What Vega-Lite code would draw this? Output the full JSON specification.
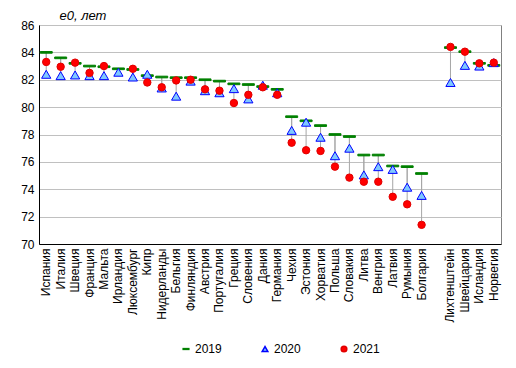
{
  "$schema": "https://vega.github.io/schema/vega-lite/v6.json",
  "width": 462,
  "height": 219,
  "autosize": "none",
  "padding": {"left": 39, "top": 25, "right": 15, "bottom": 124},
  "background": "white",
  "config": {
    "font": "Liberation Sans",
    "view": {"stroke": "#808080", "strokeWidth": 1},
    "axis": {"labelFont": "Liberation Sans", "labelFontSize": 12, "labelColor": "black", "ticks": false, "domainColor": "black", "gridColor": "#C0C0C0", "labelOverlap": false, "labelFlush": false, "labelBound": false},
    "legend": {"labelFont": "Liberation Sans", "labelFontSize": 12, "labelColor": "black"}
  },
  "data": {"values": [
    {"c": "Испания", "y": "2019", "v": 84.0},
    {"c": "Италия", "y": "2019", "v": 83.6},
    {"c": "Швеция", "y": "2019", "v": 83.2},
    {"c": "Франция", "y": "2019", "v": 83.0},
    {"c": "Мальта", "y": "2019", "v": 82.95},
    {"c": "Ирландия", "y": "2019", "v": 82.8},
    {"c": "Люксембург", "y": "2019", "v": 82.75},
    {"c": "Кипр", "y": "2019", "v": 82.3},
    {"c": "Нидерланды", "y": "2019", "v": 82.2},
    {"c": "Бельгия", "y": "2019", "v": 82.15},
    {"c": "Финляндия", "y": "2019", "v": 82.15},
    {"c": "Австрия", "y": "2019", "v": 82.0},
    {"c": "Португалия", "y": "2019", "v": 81.9},
    {"c": "Греция", "y": "2019", "v": 81.7},
    {"c": "Словения", "y": "2019", "v": 81.65},
    {"c": "Дания", "y": "2019", "v": 81.5},
    {"c": "Германия", "y": "2019", "v": 81.3},
    {"c": "Чехия", "y": "2019", "v": 79.3},
    {"c": "Эстония", "y": "2019", "v": 79.0},
    {"c": "Хорватия", "y": "2019", "v": 78.65},
    {"c": "Польша", "y": "2019", "v": 78.0},
    {"c": "Словакия", "y": "2019", "v": 77.85},
    {"c": "Литва", "y": "2019", "v": 76.5},
    {"c": "Венгрия", "y": "2019", "v": 76.5},
    {"c": "Латвия", "y": "2019", "v": 75.7},
    {"c": "Румыния", "y": "2019", "v": 75.65},
    {"c": "Болгария", "y": "2019", "v": 75.15},
    {"c": "Лихтенштейн", "y": "2019", "v": 84.35},
    {"c": "Швейцария", "y": "2019", "v": 84.05},
    {"c": "Исландия", "y": "2019", "v": 83.2},
    {"c": "Норвегия", "y": "2019", "v": 83.05},
    {"c": "Испания", "y": "2020", "v": 82.4},
    {"c": "Италия", "y": "2020", "v": 82.3},
    {"c": "Швеция", "y": "2020", "v": 82.35},
    {"c": "Франция", "y": "2020", "v": 82.3},
    {"c": "Мальта", "y": "2020", "v": 82.3},
    {"c": "Ирландия", "y": "2020", "v": 82.55},
    {"c": "Люксембург", "y": "2020", "v": 82.2},
    {"c": "Кипр", "y": "2020", "v": 82.4},
    {"c": "Нидерланды", "y": "2020", "v": 81.4},
    {"c": "Бельгия", "y": "2020", "v": 80.8},
    {"c": "Финляндия", "y": "2020", "v": 81.9},
    {"c": "Австрия", "y": "2020", "v": 81.2},
    {"c": "Португалия", "y": "2020", "v": 81.05},
    {"c": "Греция", "y": "2020", "v": 81.35},
    {"c": "Словения", "y": "2020", "v": 80.6},
    {"c": "Дания", "y": "2020", "v": 81.6},
    {"c": "Германия", "y": "2020", "v": 81.05},
    {"c": "Чехия", "y": "2020", "v": 78.3},
    {"c": "Эстония", "y": "2020", "v": 78.9},
    {"c": "Хорватия", "y": "2020", "v": 77.8},
    {"c": "Польша", "y": "2020", "v": 76.45},
    {"c": "Словакия", "y": "2020", "v": 77.0},
    {"c": "Литва", "y": "2020", "v": 75.05},
    {"c": "Венгрия", "y": "2020", "v": 75.65},
    {"c": "Латвия", "y": "2020", "v": 75.45},
    {"c": "Румыния", "y": "2020", "v": 74.15},
    {"c": "Болгария", "y": "2020", "v": 73.55},
    {"c": "Лихтенштейн", "y": "2020", "v": 81.8},
    {"c": "Швейцария", "y": "2020", "v": 83.05},
    {"c": "Исландия", "y": "2020", "v": 83.0},
    {"c": "Норвегия", "y": "2020", "v": 83.25},
    {"c": "Испания", "y": "2021", "v": 83.3},
    {"c": "Италия", "y": "2021", "v": 82.95},
    {"c": "Швеция", "y": "2021", "v": 83.25},
    {"c": "Франция", "y": "2021", "v": 82.5},
    {"c": "Мальта", "y": "2021", "v": 83.0},
    {"c": "Люксембург", "y": "2021", "v": 82.8},
    {"c": "Кипр", "y": "2021", "v": 81.8},
    {"c": "Нидерланды", "y": "2021", "v": 81.45},
    {"c": "Бельгия", "y": "2021", "v": 81.95},
    {"c": "Финляндия", "y": "2021", "v": 82.0},
    {"c": "Австрия", "y": "2021", "v": 81.3},
    {"c": "Португалия", "y": "2021", "v": 81.2},
    {"c": "Греция", "y": "2021", "v": 80.3},
    {"c": "Словения", "y": "2021", "v": 80.9},
    {"c": "Дания", "y": "2021", "v": 81.45},
    {"c": "Германия", "y": "2021", "v": 80.9},
    {"c": "Чехия", "y": "2021", "v": 77.4},
    {"c": "Эстония", "y": "2021", "v": 76.85},
    {"c": "Хорватия", "y": "2021", "v": 76.8},
    {"c": "Польша", "y": "2021", "v": 75.65},
    {"c": "Словакия", "y": "2021", "v": 74.85},
    {"c": "Литва", "y": "2021", "v": 74.55},
    {"c": "Венгрия", "y": "2021", "v": 74.55},
    {"c": "Латвия", "y": "2021", "v": 73.45},
    {"c": "Румыния", "y": "2021", "v": 72.9},
    {"c": "Болгария", "y": "2021", "v": 71.4},
    {"c": "Лихтенштейн", "y": "2021", "v": 84.4},
    {"c": "Швейцария", "y": "2021", "v": 84.05},
    {"c": "Исландия", "y": "2021", "v": 83.2},
    {"c": "Норвегия", "y": "2021", "v": 83.25}
  ]},
  "encoding": {
    "x": {
      "field": "c", "type": "nominal",
      "scale": {"domain": ["Испания","Италия","Швеция","Франция","Мальта","Ирландия","Люксембург","Кипр","Нидерланды","Бельгия","Финляндия","Австрия","Португалия","Греция","Словения","Дания","Германия","Чехия","Эстония","Хорватия","Польша","Словакия","Литва","Венгрия","Латвия","Румыния","Болгария"," ","Лихтенштейн","Швейцария","Исландия","Норвегия"], "paddingInner": 0, "paddingOuter": 0},
      "axis": {"title": null, "labelAngle": -90, "labelPadding": 4, "grid": false, "domainColor": "black"}
    },
    "y": {"field": "v", "type": "quantitative", "scale": {"domain": [70, 86], "nice": false, "zero": false},
      "axis": {"values": [70,72,74,76,78,80,82,84,86], "title": "e0, лет", "titleAngle": 0, "titleAlign": "left", "titleBaseline": "alphabetic", "titleX": 20, "titleY": -6, "titleFont": "Liberation Sans", "titleFontSize": 13, "titleFontWeight": "normal", "titleFontStyle": "italic", "titleColor": "black", "labelPadding": 5, "grid": true, "gridColor": "#C0C0C0"}}
  },
  "layer": [
    {
      "transform": [{"joinaggregate": [{"op": "max", "field": "v", "as": "hi"}], "groupby": ["c"]}],
      "mark": {"type": "rule", "color": "#A6A6A6", "strokeWidth": 1},
      "encoding": {
        "y2": {"field": "hi"}
      }
    },
    {
      "transform": [{"filter": "datum.y == '2019'"}],
      "mark": {"type": "point", "filled": true, "opacity": 1, "strokeWidth": 1, "size": 144},
      "encoding": {
        "shape": {"field": "y", "type": "nominal", "scale": {"domain": ["2019","2020","2021"], "range": ["M-1,-0.14L1,-0.14L1,0.14L-1,0.14Z", "triangle-up", "circle"]},
          "legend": {"title": null, "orient": "none", "legendX": 141, "legendY": 318, "direction": "horizontal", "columnPadding": 37, "symbolSize": 32, "labelOffset": 3}},
        "fill": {"field": "y", "type": "nominal", "scale": {"domain": ["2019","2020","2021"], "range": ["#008000", "#7FC8FF", "#FF0000"]}},
        "stroke": {"field": "y", "type": "nominal", "scale": {"domain": ["2019","2020","2021"], "range": ["#008000", "#0000FF", "#E00000"]}}
      }
    },
    {
      "transform": [{"filter": "datum.y == '2020'"}],
      "mark": {"type": "point", "filled": true, "opacity": 1, "strokeWidth": 1, "size": 85},
      "encoding": {
        "shape": {"field": "y", "type": "nominal"},
        "fill": {"field": "y", "type": "nominal"},
        "stroke": {"field": "y", "type": "nominal"}
      }
    },
    {
      "transform": [{"filter": "datum.y == '2021'"}],
      "mark": {"type": "point", "filled": true, "opacity": 1, "strokeWidth": 1, "size": 55},
      "encoding": {
        "shape": {"field": "y", "type": "nominal"},
        "fill": {"field": "y", "type": "nominal"},
        "stroke": {"field": "y", "type": "nominal"}
      }
    }
  ]
}
